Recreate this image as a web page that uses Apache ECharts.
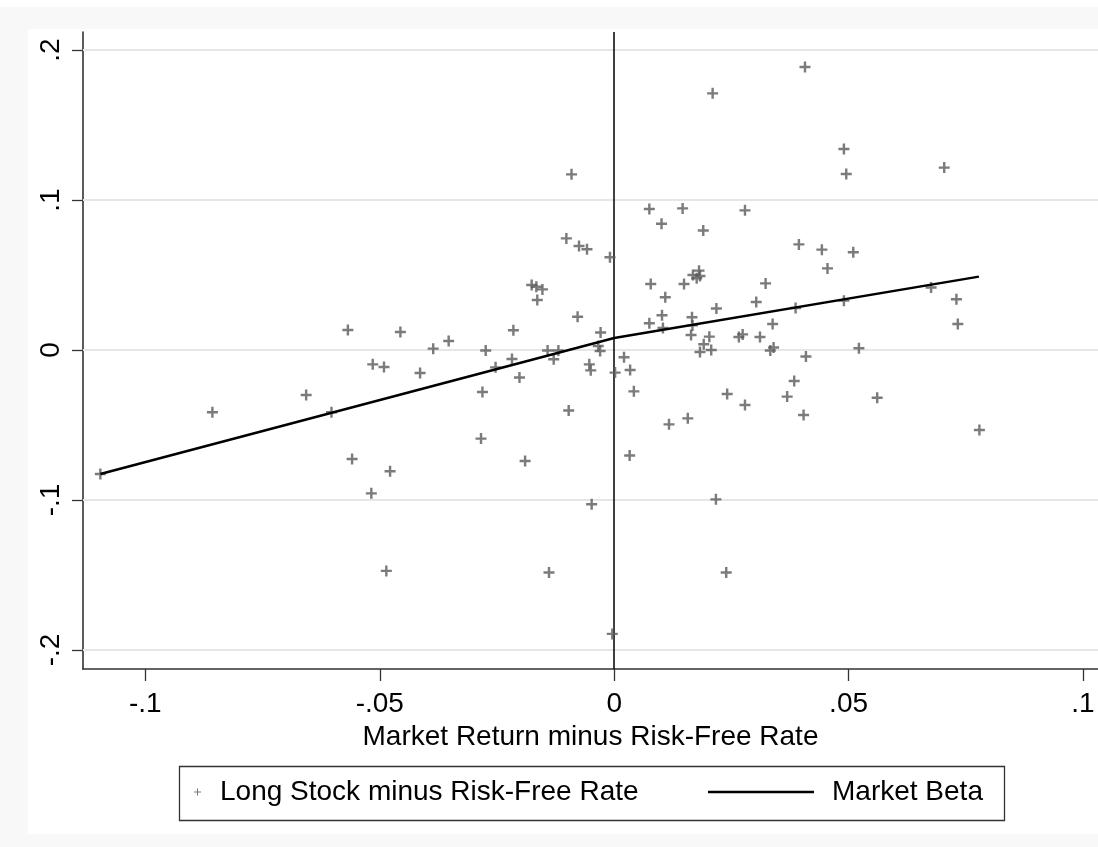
<!DOCTYPE html>
<html>
<head>
<meta charset="utf-8">
<script src="https://cdn.jsdelivr.net/npm/echarts@6.0.0/dist/echarts.min.js"></script>
<style>
html,body{margin:0;padding:0;background:#f8f8f8;}
#chart{width:1098px;height:847px;}
</style>
</head>
<body>
<div id="chart"></div>
<script>
// Scatter: Long Stock minus Risk-Free Rate vs Market Return minus Risk-Free Rate
const mktX = [
 -0.0568,-0.0657,-0.0857,-0.0603,-0.0559,-0.1096,
 -0.0091,-0.0102,-0.0075,-0.0058,-0.0009,-0.0176,-0.0166,-0.0153,-0.0164,-0.0078,
 -0.0456,-0.0215,-0.0029,-0.0353,-0.0386,-0.0274,-0.0142,-0.0119,-0.0034,-0.0030,
 -0.0129,-0.0218,-0.0253,-0.0515,-0.0491,-0.0414,-0.0202,-0.0053,-0.0050,0.0002,
 -0.0281,-0.0097,-0.0284,
 -0.0478,-0.0190,-0.0518,-0.0048,-0.0486,-0.0139,-0.0004,
 0.0407,0.0210,0.0490,0.0495,0.0075,0.0146,0.0279,0.0101,0.0190,0.0394,0.0443,0.0510,
 0.0455,0.0181,0.0168,0.0176,0.0183,0.0078,0.0149,0.0323,0.0109,0.0303,0.0218,0.0387,
 0.0490,0.0102,0.0166,
 0.0075,0.0104,0.0167,0.0338,0.0164,0.0203,0.0266,0.0274,0.0311,0.0191,0.0183,0.0207,
 0.0333,0.0340,0.0522,0.0409,0.0021,0.0034,0.0042,0.0384,0.0241,0.0369,0.0279,0.0404,
 0.0157,0.0117,0.0033,0.0217,0.0239,
 0.0704,0.0676,0.0730,0.0733,0.0561,0.0779
];
const stockY = [
 0.0133,-0.0300,-0.0415,-0.0415,-0.0727,-0.0827,
 0.1171,0.0744,0.0693,0.0671,0.0618,0.0433,0.0422,0.0404,0.0333,0.0222,
 0.0120,0.0131,0.0116,0.0060,0.0009,-0.0004,-0.0004,-0.0004,0.0027,-0.0007,
 -0.0062,-0.0060,-0.0116,-0.0096,-0.0113,-0.0153,-0.0184,-0.0096,-0.0136,-0.0151,
 -0.0280,-0.0404,-0.0591,
 -0.0809,-0.0740,-0.0956,-0.1029,-0.1473,-0.1484,-0.1893,
 0.1887,0.1711,0.1340,0.1173,0.0940,0.0944,0.0931,0.0842,0.0796,0.0704,0.0669,0.0651,
 0.0544,0.0529,0.0500,0.0478,0.0493,0.0440,0.0440,0.0444,0.0351,0.0320,0.0276,0.0280,
 0.0329,0.0231,0.0218,
 0.0178,0.0147,0.0164,0.0173,0.0100,0.0089,0.0087,0.0104,0.0087,0.0038,-0.0013,0.0000,
 -0.0004,0.0016,0.0011,-0.0044,-0.0049,-0.0133,-0.0276,-0.0207,-0.0293,-0.0311,-0.0367,-0.0433,
 -0.0456,-0.0496,-0.0704,-0.0996,-0.1484,
 0.1216,0.0416,0.0338,0.0173,-0.0318,-0.0533
];
// Market Beta fitted line
const betaX = [-0.1096, 0, 0.0778];
const betaY = [-0.0827, 0.0080, 0.0489];

// Axes
const xTickVals = [-0.1, -0.05, 0, 0.05, 0.1];
const xTickLabels = ['-.1', '-.05', '0', '.05', '.1'];
const yTickVals = [-0.2, -0.1, 0, 0.1, 0.2];
const yTickLabels = ['-.2', '-.1', '0', '.1', '.2'];
const xRange = [-0.1133, 0.1032];
const yRange = [-0.2127, 0.212];
const refLineX = 0;

const scatterName = 'Long Stock minus Risk-Free Rate';
const lineName = 'Market Beta';
const xTitle = 'Market Return minus Risk-Free Rate';

const FONT = "'Liberation Sans', Arial, sans-serif";
const FS = 28;
const plusPath = 'path://M3.9,0H6.1V3.9H10V6.1H6.1V10H3.9V6.1H0V3.9H3.9Z';
const plusSmall = 'path://M2.55,0H3.45V2.55H6V3.45H3.45V6H2.55V3.45H0V2.55H2.55Z';

const scatterData = mktX.map((x, i) => [x, stockY[i]]);
const lineData = betaX.map((x, i) => [x, betaY[i]]);

const chart = echarts.init(document.getElementById('chart'), null, {renderer: 'canvas'});
chart.setOption({
  animation: false,
  backgroundColor: 'transparent',
  textStyle: {fontFamily: FONT},
  graphic: [
    {type: 'rect', z: -20, shape: {x: 0, y: 0, width: 1098, height: 7}, style: {fill: '#ffffff'}},
    {type: 'rect', z: -20, shape: {x: 28, y: 29, width: 1070, height: 805}, style: {fill: '#ffffff'}},
    {type: 'rect', z: -5, shape: {x: 179.5, y: 766.5, width: 825, height: 54}, style: {fill: 'transparent', stroke: '#333333', lineWidth: 1.3}}
  ],
  grid: {left: 83, right: 0, top: 32, bottom: 178, containLabel: false, outerBoundsMode: 'none'},
  xAxis: {
    type: 'value', min: xRange[0], max: xRange[1],
    name: xTitle, nameLocation: 'middle', nameGap: 53,
    nameTextStyle: {fontSize: FS, color: '#000', fontFamily: FONT},
    axisLine: {show: true, onZero: false, lineStyle: {color: '#333', width: 1.6}},
    axisTick: {show: true, length: 12, customValues: xTickVals, lineStyle: {color: '#333', width: 1.3}},
    axisLabel: {show: true, customValues: xTickVals, margin: 21, fontSize: FS, color: '#000', fontFamily: FONT,
      formatter: v => { const i = xTickVals.findIndex(t => Math.abs(t - v) < 1e-9); return i >= 0 ? xTickLabels[i] : ''; }},
    splitLine: {show: false}
  },
  yAxis: {
    type: 'value', min: yRange[0], max: yRange[1],
    axisLine: {show: true, onZero: false, lineStyle: {color: '#333', width: 1.6}},
    axisTick: {show: true, length: 11, customValues: yTickVals, lineStyle: {color: '#333', width: 1.3}},
    axisLabel: {show: true, customValues: yTickVals, rotate: 90, margin: 18, fontSize: FS, color: '#000', fontFamily: FONT,
      formatter: v => { const i = yTickVals.findIndex(t => Math.abs(t - v) < 1e-9); return i >= 0 ? yTickLabels[i] : ''; }},
    splitLine: {show: false}
  },
  legend: [
    {
      data: [{name: scatterName, icon: plusSmall}],
      left: 194, top: 778, padding: 0, itemWidth: 7, itemHeight: 7,
      selectedMode: false,
      textStyle: {fontSize: FS, color: '#000', fontFamily: FONT, padding: [0, 0, 0, 14]}
    },
    {
      data: [{name: lineName, icon: 'rect'}],
      left: 708, top: 778, padding: 0, itemWidth: 106, itemHeight: 2.5,
      selectedMode: false,
      textStyle: {fontSize: FS, color: '#000', fontFamily: FONT, padding: [0, 0, 0, 13]}
    }
  ],
  series: [
    {
      name: scatterName, type: 'scatter', z: 3,
      symbol: plusPath, symbolSize: 11,
      itemStyle: {color: '#5a5a5a'},
      data: scatterData,
      markLine: {
        silent: true, z: 1, symbol: ['none', 'none'], label: {show: false},
        lineStyle: {color: '#e6e6e6', width: 2, type: 'solid'},
        data: yTickVals.map(v => ({yAxis: v}))
      }
    },
    {
      name: lineName, type: 'line', z: 4,
      symbol: 'none', showSymbol: false,
      lineStyle: {color: '#000', width: 2.5},
      itemStyle: {color: '#000'},
      data: lineData,
      markLine: {
        silent: true, z: 2, symbol: ['none', 'none'], label: {show: false},
        lineStyle: {color: '#000', width: 1.5, type: 'solid'},
        data: [{xAxis: refLineX}]
      }
    }
  ]
});
</script>
</body>
</html>
